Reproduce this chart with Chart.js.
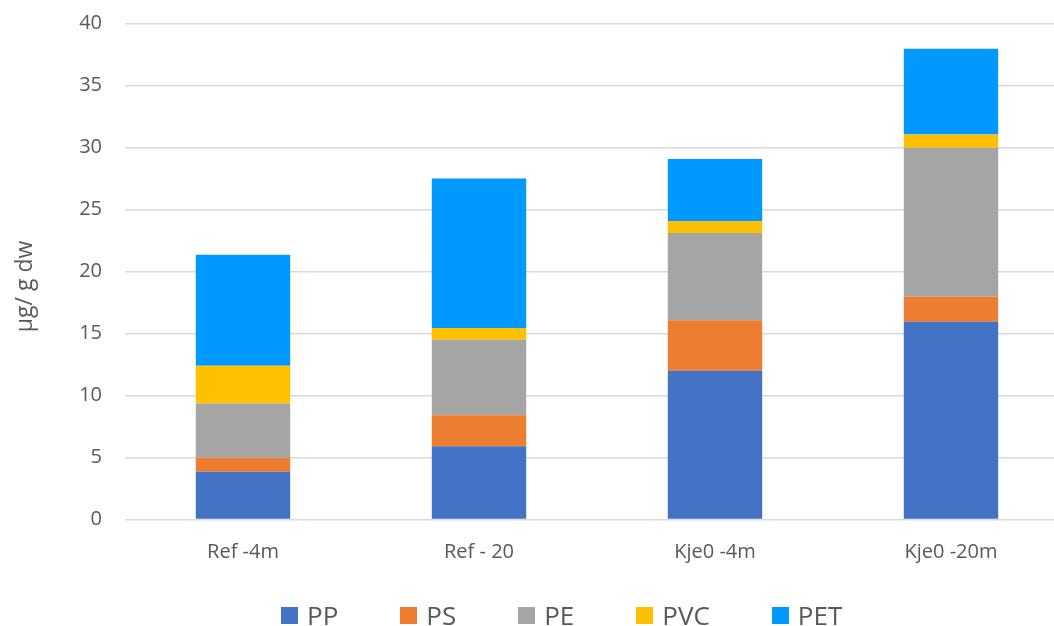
<!DOCTYPE html>
<html>
<head>
<meta charset="utf-8">
<script src="https://cdn.jsdelivr.net/npm/chart.js@4/dist/chart.umd.min.js"></script>
<style>
  html, body { margin: 0; padding: 0; background: #fff; overflow: hidden; }
  #wrap { position: absolute; left: 0; top: 0; width: 1069px; height: 626px; }
  #legend {
    position: absolute; left: 281px; top: 602px; height: 26px;
    display: flex; align-items: center; gap: 62px;
    font-family: 'Open Sans', 'DejaVu Sans', sans-serif; font-size: 26px; line-height: 26px;
    color: #595959;
  }
  #legend .item { display: flex; align-items: center; }
  #legend .box { width: 17px; height: 17px; margin-right: 9px; }
</style>
</head>
<body>
<div id="wrap"><canvas id="chart" width="1069" height="626"></canvas></div>
<div id="legend"></div>
<script>
const categories = ["Ref -4m", "Ref - 20", "Kje0 -4m", "Kje0 -20m"];
const seriesNames = ["PP", "PS", "PE", "PVC", "PET"];
const ppValues = [3.85, 5.9, 12.0, 15.95];
const psValues = [1.13, 2.5, 4.06, 2.01];
const peValues = [4.37, 6.1, 7.04, 12.02];
const pvcValues = [3.05, 0.95, 0.97, 1.07];
const petValues = [8.95, 12.04, 5.0, 6.92];
const yTicks = [0, 5, 10, 15, 20, 25, 30, 35, 40];

const seriesColors = ["#4472C4", "#ED7D31", "#A5A5A5", "#FFC000", "#0099FF"];
const seriesValues = [ppValues, psValues, peValues, pvcValues, petValues];

const textColor = "#595959";
const font = "'Open Sans', 'DejaVu Sans', sans-serif";

const datasets = seriesNames.map((name, i) => ({
  label: name,
  data: seriesValues[i],
  backgroundColor: seriesColors[i],
  borderWidth: 0,
  barPercentage: 0.4,
  categoryPercentage: 1.0,
}));

const ctx = document.getElementById("chart").getContext("2d");

const chart = new Chart(ctx, {
  type: "bar",
  data: { labels: categories, datasets: datasets },
  options: {
    responsive: false,
    animation: false,
    layout: { padding: { top: 23.5, left: 0, right: 0, bottom: 0 } },
    scales: {
      x: {
        stacked: true,
        grid: { display: false, drawTicks: false },
        border: { display: false },
        ticks: { color: textColor, font: { family: font, size: 20 }, padding: 21 },
        afterFit: (axis) => { axis.height = 106.5; },
      },
      y: {
        stacked: true,
        min: 0,
        max: 40,
        afterBuildTicks: (axis) => { axis.ticks = yTicks.map((v) => ({ value: v })); },
        // invisible tick marks give the label gap without padding the top of the plot
        grid: { color: "#D9D9D9", lineWidth: 1.5, drawTicks: true, tickLength: 23, tickColor: "rgba(0,0,0,0)" },
        border: { display: false },
        ticks: { color: textColor, font: { family: font, size: 20 }, padding: 0 },
        title: {
          display: true,
          text: "µg/ g dw     ",
          color: textColor,
          font: { family: font, size: 23 },
          padding: { top: 12, bottom: 0 },
        },
        afterFit: (axis) => { axis.width = 125; },
      },
    },
    plugins: {
      legend: { display: false },
      tooltip: { enabled: false },
    },
  },
});

// legend under the plot, built from the same datasets
const legendEl = document.getElementById("legend");
chart.data.datasets.forEach((ds) => {
  const item = document.createElement("div");
  item.className = "item";
  const box = document.createElement("span");
  box.className = "box";
  box.style.background = ds.backgroundColor;
  const label = document.createElement("span");
  label.textContent = ds.label;
  item.appendChild(box);
  item.appendChild(label);
  legendEl.appendChild(item);
});
</script>
</body>
</html>
